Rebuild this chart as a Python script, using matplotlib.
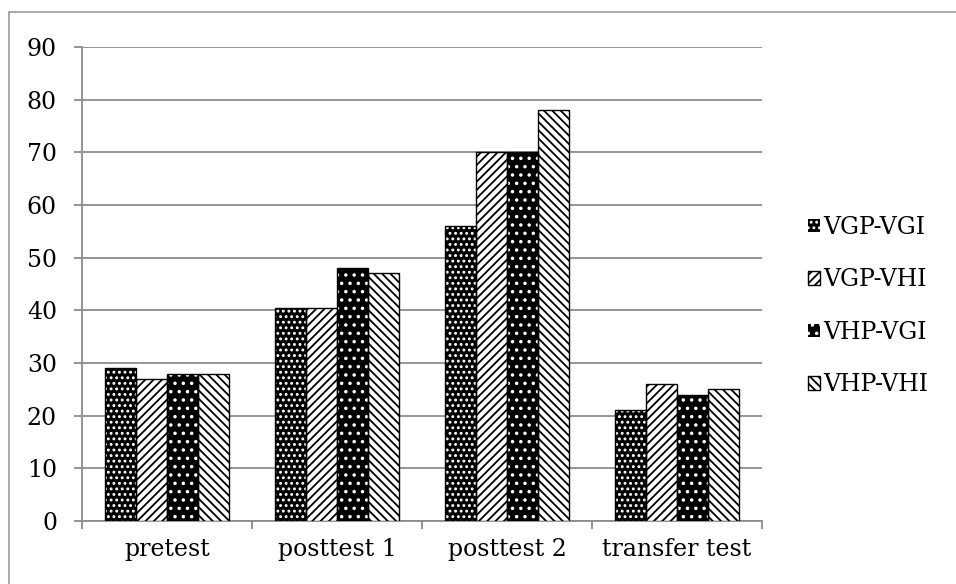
import numpy as np
import matplotlib
matplotlib.use("Agg")
import matplotlib.pyplot as plt
from matplotlib.patches import Rectangle

categories = ["pretest", "posttest 1", "posttest 2", "transfer test"]
series = ["VGP-VGI", "VGP-VHI", "VHP-VGI", "VHP-VHI"]
vgp_vgi = [29, 40.5, 56, 21]
vgp_vhi = [27, 40.5, 70, 26]
vhp_vgi = [28, 48, 70, 24]
vhp_vhi = [28, 47, 78, 25]
values = [vgp_vgi, vgp_vhi, vhp_vgi, vhp_vhi]

# face colour, hatch colour, hatch pattern for each series
styles = [
    ("black", "white", "..."),
    ("white", "black", "////"),
    ("black", "white", ".."),
    ("white", "black", "\\\\\\\\"),
]

plt.rcParams["font.family"] = ["DejaVu Serif"]
plt.rcParams["hatch.linewidth"] = 1.3

fig = plt.figure(figsize=(9.56, 5.84), dpi=100)
W, H = 956, 584
ax = fig.add_axes([82 / W, (H - 521) / H, (762 - 82) / W, (521 - 47) / H])

# outer chart frame
fig.patches.append(Rectangle((9 / W, -0.1), 1.2, (H - 12) / H + 0.1, transform=fig.transFigure,
                             fill=False, edgecolor="#999999", linewidth=1.2))

x = np.arange(len(categories))
bw = 0.183
for i, (vals, (fc, hc, hatch)) in enumerate(zip(values, styles)):
    pos = x + (i - 1.5) * bw
    ax.bar(pos, vals, bw, color=fc, edgecolor=hc, hatch=hatch, linewidth=0, zorder=3)
    ax.bar(pos, vals, bw, fill=False, edgecolor="black", linewidth=1.0, zorder=4)

# legend handles drawn as small hatched squares
handles = []
for (fc, hc, hatch), name in zip(styles, series):
    handles.append(Rectangle((0, 0), 1, 1, facecolor=fc, edgecolor=hc, hatch=hatch,
                             linewidth=0 if fc == "black" else 1.0, label=name))
leg = fig.legend(handles=handles, loc="center left", bbox_to_anchor=(787 / W, 1 - 306 / H),
                 frameon=False, fontsize=17, handlelength=0.5, handleheight=0.5,
                 handletextpad=0.15, labelspacing=1.25)

ax.set_xlim(-0.5, 3.5)
ax.set_ylim(0, 90)
ax.set_yticks(range(0, 91, 10))
ax.yaxis.grid(True, color="#8c8c8c", linewidth=1.3, zorder=0)
ax.set_xticks(x)
ax.set_xticklabels(categories)
ax.set_xticks(np.arange(-0.5, 4, 1), minor=True)
ax.tick_params(axis="x", which="major", length=0, pad=12, labelsize=17)
ax.tick_params(axis="x", which="minor", length=6, width=1.3, color="#8c8c8c", direction="out")
ax.tick_params(axis="y", length=6, width=1.3, color="#8c8c8c", direction="out", pad=12, labelsize=17)
for s in ["top", "right"]:
    ax.spines[s].set_visible(False)
for s in ["left", "bottom"]:
    ax.spines[s].set_color("#8c8c8c")
    ax.spines[s].set_linewidth(1.3)
ax.set_axisbelow(True)

fig.savefig("out.png", dpi=100)
